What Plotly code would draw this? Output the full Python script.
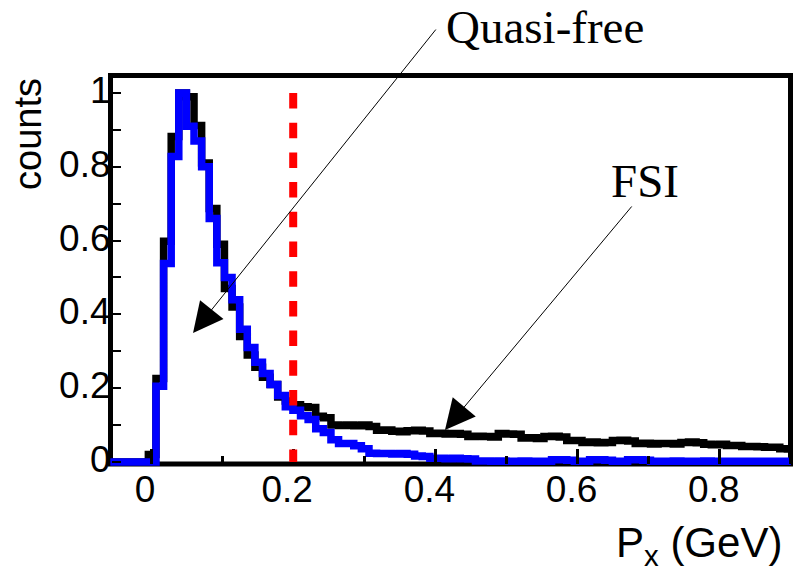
import numpy as np
import plotly.graph_objects as go

# ---- histogram binning (GeV) ----
FIRST_EDGE = -0.0572
BIN_WIDTH = 0.0107
X_MAX = 0.9

# normalised counts per bin, both spectra scaled to peak = 1
all_events = [
    0, 0, 0, 0, 0, 0.02,
    0.226, 0.598, 0.882, 1.0, 0.99, 0.912, 0.81, 0.687, 0.59, 0.47,
    0.42, 0.34, 0.29, 0.257, 0.23, 0.21, 0.176, 0.165, 0.155, 0.15,
    0.148, 0.124, 0.12, 0.10, 0.099, 0.10, 0.098, 0.10, 0.096, 0.086,
    0.087, 0.083, 0.082, 0.085, 0.086, 0.084, 0.077, 0.078, 0.076, 0.077,
    0.075, 0.069, 0.07, 0.069, 0.068, 0.077, 0.076, 0.075, 0.065, 0.066,
    0.064, 0.069, 0.07, 0.068, 0.058, 0.058, 0.053, 0.054, 0.052, 0.053,
    0.058, 0.059, 0.057, 0.05, 0.051, 0.049, 0.05, 0.05, 0.049, 0.053,
    0.054, 0.052, 0.048, 0.047, 0.048, 0.045, 0.045, 0.042, 0.042, 0.041,
    0.04, 0.04, 0.036, 0.035,
]
quasi_free = [
    0, 0, 0, 0, 0, 0,
    0.205, 0.538, 0.828, 1.0, 0.91, 0.87, 0.80, 0.66, 0.54, 0.50,
    0.44, 0.36, 0.31, 0.27, 0.24, 0.21, 0.18, 0.15, 0.14, 0.125,
    0.115, 0.09, 0.08, 0.06, 0.05, 0.05, 0.044, 0.036, 0.024, 0.023,
    0.023, 0.022, 0.023, 0.021, 0.016, 0.015, 0.01, 0.01, 0.009, 0.01,
    0.009, 0.008, 0.003, 0.003, 0.002, 0.003, 0.002, 0.002, 0.003, 0.002,
    0.002, 0.002, 0.006, 0.006, 0.005, 0.002, 0.002, 0.006, 0.006, 0.005,
    0.002, 0.002, 0.006, 0.006, 0.005, 0.002, 0.002, 0.002, 0.003, 0.002,
    0.002, 0.002, 0.003, 0.002, 0.002, 0.002, 0.002, 0.002, 0.002, 0.002,
    0.002, 0.002, 0.002, 0.002,
]
cut_value = 0.2

x_ticks = [0, 0.2, 0.4, 0.6, 0.8]
y_ticks = [0, 0.2, 0.4, 0.6, 0.8, 1]

n_bins = len(all_events)
edges = FIRST_EDGE + BIN_WIDTH * np.arange(n_bins + 1)
edges = np.minimum(edges, X_MAX)


def step_xy(values):
    return edges, list(values) + [values[-1]]


# ---- page geometry (pixels) ----
W, H = 800, 572
L, R, T, B = 106, 5, 70, 100
PW, PH = W - L - R, H - T - B
X_RANGE = [-0.0633, 0.9058]
Y_RANGE = [-0.0271, 1.0623]


def px(x):
    return (x - L) / PW


def py(y):
    return (H - B - y) / PH


fig = go.Figure()
bx, by = step_xy(all_events)
fig.add_trace(go.Scatter(x=bx, y=by, mode="lines", line_shape="hv",
                         line=dict(color="#000000", width=7.5),
                         hoverinfo="skip", showlegend=False))
qx, qy = step_xy(quasi_free)
fig.add_trace(go.Scatter(x=qx, y=qy, mode="lines", line_shape="hv",
                         line=dict(color="#0000ff", width=7.5),
                         hoverinfo="skip", showlegend=False))

frame_x0, frame_x1 = px(110.5), px(790.5)
frame_y0, frame_y1 = py(464), py(75.5)

shapes = [
    dict(type="rect", xref="paper", yref="paper", x0=frame_x0, x1=frame_x1,
         y0=frame_y0, y1=frame_y1, line=dict(color="black", width=5),
         layer="below"),
    dict(type="line", xref="x", yref="y", x0=cut_value, x1=cut_value,
         y0=1.0, y1=0, line=dict(color="#ff0000", width=8,
                                 dash="15.5px,14.2px"),
         layer="above"),
]

tick_font = dict(family="Liberation Sans", size=37, color="black")

annotations = [
    dict(text="Quasi-free", xref="paper", yref="paper", x=px(445), y=py(27),
         xanchor="left", yanchor="middle", showarrow=False, borderpad=0,
         font=dict(family="Liberation Serif", size=47, color="black")),
    dict(text="FSI", xref="paper", yref="paper", x=px(610), y=py(181),
         xanchor="left", yanchor="middle", showarrow=False, borderpad=0,
         font=dict(family="Liberation Serif", size=47, color="black")),
    dict(text="", xref="x", yref="y", axref="x", ayref="y",
         x=0.0591, y=0.3496, ax=0.4023, ay=1.176, showarrow=True,
         arrowhead=2, arrowsize=6, arrowwidth=1, arrowcolor="black"),
    dict(text="", xref="x", yref="y", axref="x", ayref="y",
         x=0.4135, y=0.0867, ax=0.6779, ay=0.6965, showarrow=True,
         arrowhead=2, arrowsize=6, arrowwidth=1, arrowcolor="black"),
    dict(text="counts", xref="paper", yref="paper", x=px(28), y=py(134),
         xanchor="center", yanchor="middle", textangle=-90, showarrow=False,
         font=dict(family="Liberation Sans", size=38, color="black")),
    dict(text="P<sub>x</sub> (GeV)", xref="paper", yref="paper",
         x=px(784), y=py(545), xanchor="right", yanchor="middle",
         showarrow=False,
         font=dict(family="Liberation Sans", size=42, color="black")),
]

fig.update_layout(
    width=W, height=H,
    margin=dict(l=L, r=R, t=T, b=B, pad=0),
    paper_bgcolor="white", plot_bgcolor="white",
    shapes=shapes, annotations=annotations,
    xaxis=dict(range=X_RANGE, anchor="free", position=frame_y0,
               tickvals=x_ticks, ticktext=[f"{v:g}" for v in x_ticks],
               ticks="inside", ticklen=15, tickwidth=3, tickcolor="black",
               minor=dict(dtick=0.1, tick0=0, ticks="inside", ticklen=8,
                          tickwidth=3, tickcolor="black"),
               ticklabelshift=-6,
               showgrid=False, zeroline=False, showline=False,
               tickfont=tick_font),
    yaxis=dict(range=Y_RANGE, anchor="free", position=frame_x0,
               tickvals=y_ticks, ticktext=[f"{v:g}" for v in y_ticks],
               ticks="inside", ticklen=9, tickwidth=2, tickcolor="black",
               minor=dict(dtick=0.1, tick0=0, ticks="inside", ticklen=9,
                          tickwidth=2, tickcolor="black"),
               ticklabelshift=-3,
               showgrid=False, zeroline=False, showline=False,
               tickfont=tick_font),
)

fig.write_html("out.html")
